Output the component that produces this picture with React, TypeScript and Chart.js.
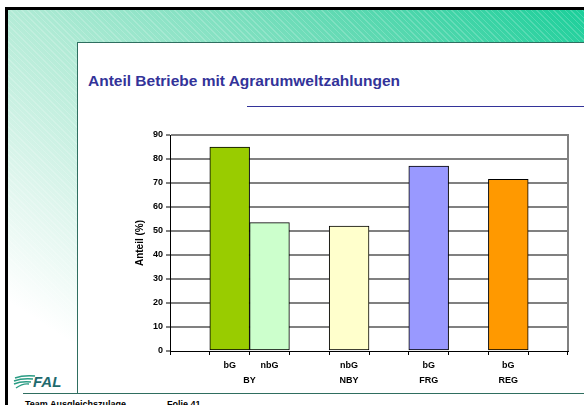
import React, { useEffect, useRef } from 'react';
import { Chart, registerables } from 'chart.js';

Chart.register(...registerables);

// ---- data ----
const groups = ['BY', 'NBY', 'FRG', 'REG'];
const groupTypes = [['bG', 'nbG'], ['nbG'], ['bG'], ['bG']];
const groupValues = [[85, 53.5], [52], [77], [71.5]];
const groupColors = [['#99CC00', '#CCFFCC'], ['#FFFFCC'], ['#9999FF'], ['#FF9900']];
const yTicks = [0, 10, 20, 30, 40, 50, 60, 70, 80, 90];
const yTitle = 'Anteil (%)';
const titleText = 'Anteil Betriebe mit Agrarumweltzahlungen';
const footerLeft = 'Team Ausgleichszulage';
const footerRight = 'Folie 41';

// build category slots: empty slot, group bars, empty slot, ...
const slotLabels: string[] = [''];
const slotValues: (number | null)[] = [null];
const slotColors: string[] = ['rgba(0,0,0,0)'];
const groupCenters: number[] = [];
groups.forEach((g, gi) => {
  const start = slotLabels.length;
  groupTypes[gi].forEach((t, i) => {
    slotLabels.push(t);
    slotValues.push(groupValues[gi][i]);
    slotColors.push(groupColors[gi][i]);
  });
  groupCenters.push(start + slotLabels.length); // in half-slot units
  slotLabels.push('');
  slotValues.push(null);
  slotColors.push('rgba(0,0,0,0)');
});
// group label axis: one label per half-slot boundary (offset: false)
const groupAxisLabels: string[] = Array.from({ length: slotLabels.length * 2 + 1 }, () => '');
groupCenters.forEach((c, i) => {
  groupAxisLabels[c] = groups[i];
});

const FONT = "'Liberation Sans', Arial, sans-serif";
const GREEN_LINE = '#2f6e60';

export default function App() {
  const ref = useRef<HTMLCanvasElement | null>(null);

  useEffect(() => {
    if (!ref.current) return;
    const tickFont = { family: FONT, size: 9, weight: 'bold' as const };
    const chart = new Chart(ref.current, {
      type: 'bar',
      data: {
        labels: slotLabels,
        datasets: [
          {
            data: slotValues,
            backgroundColor: slotColors,
            borderColor: '#000',
            borderWidth: 1,
            borderSkipped: false,
            barPercentage: 1,
            categoryPercentage: 1,
            xAxisID: 'x',
            yAxisID: 'y',
          },
        ],
      },
      options: {
        animation: false,
        responsive: false,
        layout: { padding: { left: 130, right: 16, top: 135, bottom: 18 } },
        plugins: { legend: { display: false }, tooltip: { enabled: false } },
        scales: {
          x: {
            type: 'category',
            position: 'bottom',
            weight: 0,
            grid: {
              offset: true,
              drawOnChartArea: false,
              drawTicks: true,
              tickLength: 4,
              color: '#000',
              lineWidth: 1,
            },
            border: { display: true, color: '#000', width: 1, z: 1 },
            ticks: { font: tickFont, color: '#000', padding: 5, maxRotation: 0, autoSkip: false },
            afterFit: (s: any) => {
              s.height = 18;
            },
          },
          x2: {
            type: 'category',
            labels: groupAxisLabels,
            position: 'bottom',
            weight: 1,
            offset: false,
            grid: { display: false, drawTicks: false, offset: false },
            border: { display: false },
            ticks: { font: tickFont, color: '#000', padding: 6, autoSkip: false, maxRotation: 0 },
            afterFit: (s: any) => {
              s.height = 18;
            },
          },
          y: {
            type: 'linear',
            position: 'left',
            min: yTicks[0],
            max: yTicks[yTicks.length - 1],
            afterBuildTicks: (axis: any) => {
              axis.ticks = yTicks.map((v) => ({ value: v }));
            },
            ticks: { font: tickFont, color: '#000', padding: 3 },
            grid: {
              color: (ctx: any) => (ctx.tick && ctx.tick.value === 0 ? 'rgba(0,0,0,0)' : '#808080'),
              lineWidth: 2,
              tickColor: '#000',
              tickLength: 4,
              tickWidth: 1,
            },
            border: { color: '#000', width: 1 },
            title: {
              display: true,
              text: yTitle,
              font: { family: FONT, size: 10, weight: 'bold' },
              color: '#000',
              padding: 4,
            },
            afterFit: (s: any) => {
              s.width = 40;
            },
          },
          y2: {
            type: 'linear',
            position: 'right',
            min: yTicks[0],
            max: yTicks[yTicks.length - 1],
            grid: { display: false, drawTicks: false },
            ticks: { display: false },
            border: { color: '#808080', width: 2 },
            afterFit: (s: any) => {
              s.width = 0;
            },
          },
        },
      },
    } as any);
    return () => chart.destroy();
  }, []);

  return (
    <div
      style={{
        position: 'fixed',
        left: 0,
        top: 0,
        width: 584,
        height: 405,
        background: '#fff',
        overflow: 'hidden',
        fontFamily: FONT,
      }}
    >
      {/* slide frame with black border */}
      <div
        style={{
          position: 'absolute',
          left: 5,
          top: 7,
          width: 579,
          height: 398,
          borderLeft: '3px solid #000',
          borderTop: '3px solid #000',
          background: '#fff',
        }}
      >
        <div
          style={{
            position: 'absolute',
            left: 0,
            top: 0,
            right: 0,
            height: 383,
            background:
              'linear-gradient(to bottom left, #1bcf9a 0%, #5fd9b2 22%, #b2ebd6 50%, #e0f6ee 72%, #ffffff 88%)',
          }}
        />
        <div
          style={{
            position: 'absolute',
            left: 0,
            top: 0,
            right: 0,
            height: 383,
            background:
              'repeating-linear-gradient(45deg, rgba(255,255,255,0.18) 0px, rgba(255,255,255,0.18) 1px, rgba(255,255,255,0) 1px, rgba(255,255,255,0) 4px)',
          }}
        />
      </div>
      {/* white content area */}
      <div
        style={{
          position: 'absolute',
          left: 77,
          top: 42,
          width: 510,
          height: 350,
          background: '#fff',
          borderLeft: `1px solid ${GREEN_LINE}`,
          borderTop: `1px solid ${GREEN_LINE}`,
        }}
      />
      {/* footer line */}
      <div
        style={{ position: 'absolute', left: 23, top: 393, width: 561, height: 1, background: GREEN_LINE }}
      />
      {/* title */}
      <div
        style={{
          position: 'absolute',
          left: 88,
          top: 73,
          fontSize: 15.5,
          lineHeight: '15.5px',
          fontWeight: 'bold',
          color: '#333399',
          whiteSpace: 'nowrap',
        }}
      >
        {titleText}
      </div>
      <div
        style={{ position: 'absolute', left: 247, top: 106, width: 337, height: 1, background: '#333399' }}
      />
      {/* FAL logo */}
      <svg
        style={{ position: 'absolute', left: 13, top: 375 }}
        width={24}
        height={15}
        viewBox="0 0 24 15"
      >
        <path d="M2 3 Q10 0 22 1" stroke="#2a9c84" strokeWidth={1.4} fill="none" />
        <path d="M1 6 Q9 3 20 4" stroke="#2a9c84" strokeWidth={1.4} fill="none" />
        <path d="M1 9 Q8 6 18 7" stroke="#2a9c84" strokeWidth={1.4} fill="none" />
        <path d="M3 13 Q10 8 16 9" stroke="#2a9c84" strokeWidth={1.4} fill="none" />
      </svg>
      <div
        style={{
          position: 'absolute',
          left: 33,
          top: 374,
          fontSize: 15,
          lineHeight: '15px',
          fontWeight: 'bold',
          fontStyle: 'italic',
          color: '#1f6a6e',
        }}
      >
        FAL
      </div>
      {/* footer text */}
      <div
        style={{
          position: 'absolute',
          left: 25,
          top: 400,
          fontSize: 9,
          lineHeight: '9px',
          fontWeight: 'bold',
          color: '#000',
          whiteSpace: 'nowrap',
        }}
      >
        {footerLeft}
      </div>
      <div
        style={{
          position: 'absolute',
          left: 167,
          top: 400,
          fontSize: 9,
          lineHeight: '9px',
          fontWeight: 'bold',
          color: '#000',
          whiteSpace: 'nowrap',
        }}
      >
        {footerRight}
      </div>
      <canvas
        ref={ref}
        width={584}
        height={405}
        style={{ position: 'absolute', left: 0, top: 0, width: 584, height: 405 }}
      />
    </div>
  );
}
